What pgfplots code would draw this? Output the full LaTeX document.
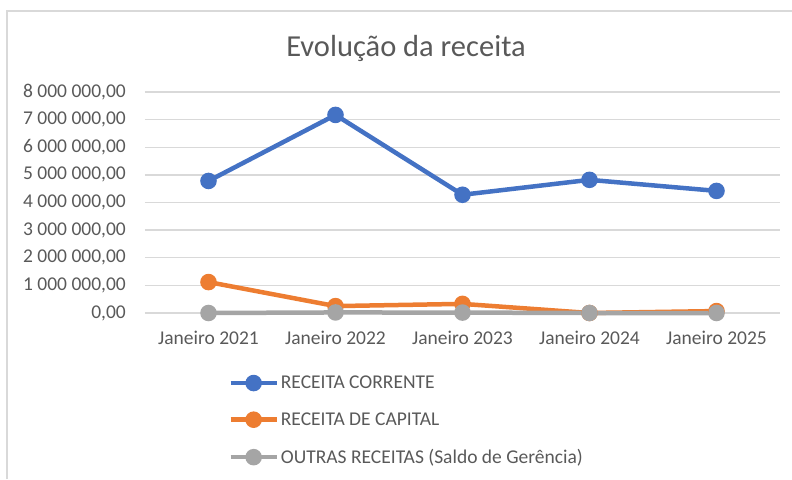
\documentclass[border=0pt]{standalone}
\usepackage{pgfplots}
\pgfplotsset{compat=1.18}
\usepackage{fontspec}
\setmainfont{Carlito}
\definecolor{cBlue}{HTML}{4472C4}
\definecolor{cOrange}{HTML}{ED7D31}
\definecolor{cGray}{HTML}{A5A5A5}
\definecolor{cGrid}{HTML}{D9D9D9}
\definecolor{cText}{HTML}{595959}
\newcommand{\tickfont}{\fontsize{19.5}{23}\selectfont}
\begin{document}
\begin{tikzpicture}[x=1pt,y=1pt]
\begin{axis}[
  name=main,
  width=635pt, height=221pt, scale only axis,
  xmin=-0.5, xmax=4.5, ymin=0, ymax=8000000,
  clip=false,
  axis line style={draw=none},
  major tick length=0pt,
  ymajorgrids, grid style={cGrid, line width=1.3pt},
  xtick={0,1,2,3,4},
  xticklabels={Janeiro 2021,Janeiro 2022,Janeiro 2023,Janeiro 2024,Janeiro 2025},
  ytick={0,1000000,2000000,3000000,4000000,5000000,6000000,7000000,8000000},
  yticklabels={{0,00},{1 000 000,00},{2 000 000,00},{3 000 000,00},{4 000 000,00},{5 000 000,00},{6 000 000,00},{7 000 000,00},{8 000 000,00}},
  scaled y ticks=false,
  yticklabel style={anchor=east, inner sep=0pt, xshift=-19pt, text=cText, font=\tickfont},
  xticklabel style={anchor=north, inner sep=0pt, yshift=-18pt, text=cText, font=\tickfont},
  legend style={at={(0.131,-0.275)}, anchor=north west, draw=none, fill=none,
    font=\tickfont, text=cText, row sep=18.5pt, inner sep=0pt,
    cells={anchor=west}},
  legend image code/.code={\draw[#1, mark repeat=2, mark phase=2] plot coordinates {(0pt,0pt) (23pt,0pt) (46pt,0pt)};},
  every axis plot/.append style={line width=4.5pt, mark=*, mark size=6pt, mark options={solid, line width=0.4pt}},
]
\addplot[cBlue, mark options={fill=cBlue, draw=cBlue}] coordinates {(0,4780000) (1,7170000) (2,4280000) (3,4820000) (4,4420000)};
\addlegendentry{RECEITA CORRENTE}
\addplot[cOrange, mark options={fill=cOrange, draw=cOrange}] coordinates {(0,1120000) (1,250000) (2,330000) (3,0) (4,70000)};
\addlegendentry{RECEITA DE CAPITAL}
\addplot[cGray, mark options={fill=cGray, draw=cGray}] coordinates {(0,0) (1,20000) (2,15000) (3,0) (4,0)};
\addlegendentry{OUTRAS RECEITAS (Saldo de Gerência)}
\end{axis}
\coordinate (O) at ([shift={(-145pt,-166pt)}]main.south west);
\pgfresetboundingbox
\path[use as bounding box] (O) rectangle ([shift={(792pt,479pt)}]O);
\draw[line width=1.5pt, cGrid] ([shift={(7pt,0pt)}]O) -- ([shift={(7pt,468pt)}]O) -- ([shift={(792pt,468pt)}]O);
\node[anchor=base, text=cText, font=\fontsize{30.5}{36}\selectfont] at ([shift={(406pt,422pt)}]O) {Evolução da receita};
\end{tikzpicture}
\end{document}
